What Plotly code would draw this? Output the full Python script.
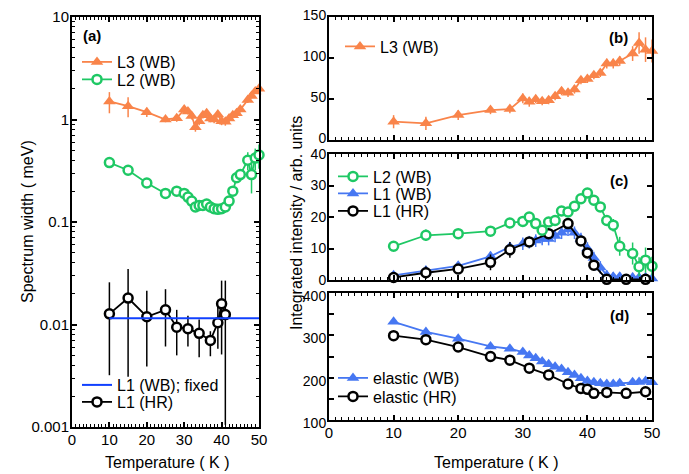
import plotly.graph_objects as go

# ---------------- data ----------------
T_WB = [10, 15, 20, 25, 28, 30, 31, 32, 33, 34, 35, 36, 37, 38, 39, 40, 41, 42, 43, 44, 45, 47, 48, 49, 50]
T_HR = [10, 15, 20, 25, 28, 31, 34, 37, 39, 40, 41, 43, 46, 49]
T_HR_width = [10, 15, 20, 25, 28, 31, 34, 37, 39, 40, 41]

# (a) spectrum width (meV)
width_L3 = [1.50, 1.35, 1.18, 1.00, 1.03, 1.25, 1.20, 1.08, 0.84, 0.96, 1.10, 1.15, 1.02, 1.00, 1.12,
            0.96, 0.95, 1.02, 1.10, 1.15, 1.25, 1.55, 1.70, 1.88, 2.00]
width_L3_err = [0.35, 0.30, 0.12, 0.06, 0.08, 0.10, 0.08, 0.08, 0.08, 0.08, 0.08, 0.08, 0.08, 0.08, 0.08,
                0.08, 0.08, 0.08, 0.08, 0.08, 0.08, 0.10, 0.10, 0.10, 0.12]
width_L2 = [0.38, 0.32, 0.24, 0.19, 0.20, 0.19, 0.175, 0.16, 0.14, 0.145, 0.145, 0.15, 0.14, 0.135, 0.133,
            0.135, 0.14, 0.16, 0.20, 0.27, 0.29, 0.40, 0.29, 0.42, 0.45]
width_L2_err = [0.02, 0.02, 0.015, 0.01, 0.01, 0.01, 0.01, 0.01, 0.01, 0.01, 0.01, 0.01, 0.01, 0.01, 0.01,
                0.01, 0.01, 0.01, 0.015, 0.02, 0.03, 0.08, 0.10, 0.10, 0.12]
width_L1_WB_fixed = 0.0115
width_L1_HR = [0.0127, 0.0181, 0.0119, 0.0139, 0.0094, 0.0091, 0.0082, 0.0070, 0.0104, 0.0159, 0.0125]
width_L1_HR_err_plus = [0.0131, 0.0167, 0.0095, 0.0082, 0.0045, 0.0031, 0.0030, 0.0016, 0.0046, 0.0109, 0.0143]
width_L1_HR_err_minus = [0.0095, 0.0150, 0.0080, 0.0078, 0.0044, 0.0030, 0.0034, 0.0021, 0.0046, 0.0108, 0.01145]

# (b) integrated intensity L3
int_L3 = [22.3, 20.3, 30.4, 36.5, 37.7, 50.7, 46.6, 49.8, 47.4, 48.6, 53.5, 59.6, 57.5, 61.6, 72.9,
          74.5, 79.0, 81.8, 93.2, 93.2, 96.4, 105.4, 118.3, 110.2, 108.6]
int_L3_err = [8, 8, 6, 5, 5, 6, 6, 5, 5, 5, 5, 5, 5, 5, 5, 5, 5, 5, 6, 6, 6, 9, 13, 15, 14]

# (c) integrated intensity L2, L1
int_L2 = [10.7, 14.2, 14.7, 15.5, 18.1, 18.6, 20.0, 17.9, 15.8, 18.4, 18.9, 21.9, 21.6, 23.4, 25.8,
          27.6, 25.3, 23.2, 18.9, 17.4, 10.7, 8.4, 4.2, 6.3, 4.4]
int_L2_err = [1.5, 1.8, 1.2, 1.2, 1.5, 1.5, 1.5, 1.5, 1.5, 1.5, 1.5, 1.5, 1.5, 1.5, 1.5,
              1.5, 1.5, 1.5, 1.5, 2.0, 3.0, 3.5, 3.0, 4.0, 3.0]
int_L1_WB = [1.5, 3.0, 4.5, 7.5, 10.5, 11.5, 12.0, 12.5, 13.0, 13.0, 14.0, 15.0, 16.0, 15.0, 13.0,
             10.0, 7.0, 4.0, 1.5, 1.0, 1.0, 0.8, 0.8, 0.8, 0.5]
int_L1_WB_err = [1.0, 1.0, 1.0, 1.5, 1.5, 2.0, 2.0, 2.0, 2.0, 2.0, 2.0, 2.0, 2.0, 2.0, 2.0,
                 2.0, 2.0, 2.0, 1.5, 1.5, 1.5, 1.5, 1.5, 1.5, 1.5]
int_L1_HR = [0.8, 2.3, 3.5, 5.6, 9.6, 12.1, 14.7, 17.9, 12.4, 8.6, 4.7, 0.2, 0.2, 0.2]
int_L1_HR_err = [0.8, 2.0, 1.0, 2.5, 2.5, 1.0, 1.0, 1.5, 1.0, 1.0, 1.0, 0.5, 0.5, 0.5]

# (d) elastic
elastic_WB = [331.8, 308.0, 292.0, 273.8, 268.3, 260.5, 252.4, 246.0, 238.0, 231.8, 226.0, 220.7, 212.9,
              206.5, 198.6, 192.0, 189.0, 186.7, 185.0, 185.0, 186.7, 189.0, 190.0, 192.0, 189.0]
elastic_HR = [299.3, 289.8, 272.4, 250.0, 241.4, 222.4, 206.5, 185.0, 174.7, 172.4, 162.9, 165.2, 162.9, 166.7]

# ---------------- styles ----------------
ORANGE = "#F9844A"
GREEN = "#1EC864"
BLUE = "#4677F2"
BLUE_LINE = "#1040FF"
BLACK = "#000000"
FONT = "Liberation Sans, Arial, sans-serif"

W, H = 689, 474


def xd(a, b):
    return [a / W, b / W]


def yd(top, bottom):
    return [1 - bottom / H, 1 - top / H]


def err(arr, color, minus=None):
    d = dict(type="data", array=arr, color=color, thickness=1.5, width=0, visible=True)
    if minus is not None:
        d["arrayminus"] = minus
        d["symmetric"] = False
    return d


def tri(c):
    return dict(symbol="triangle-up", size=11, color=c, line=dict(width=0))


def circ(c):
    return dict(symbol="circle", size=9, color="white", line=dict(width=2.5, color=c))


fig = go.Figure()

# (a)
fig.add_trace(go.Scatter(x=T_WB, y=width_L3, mode="lines+markers", name="L3 (WB)",
                         line=dict(color=ORANGE, width=1.8), marker=tri(ORANGE),
                         error_y=err(width_L3_err, ORANGE), xaxis="x", yaxis="y",
                         legend="legend", cliponaxis=False))
fig.add_trace(go.Scatter(x=T_WB, y=width_L2, mode="lines+markers", name="L2 (WB)",
                         line=dict(color=GREEN, width=1.8), marker=circ(GREEN),
                         error_y=err(width_L2_err, GREEN), xaxis="x", yaxis="y",
                         legend="legend2", cliponaxis=False))
fig.add_trace(go.Scatter(x=T_HR_width, y=width_L1_HR, mode="lines+markers", name="L1 (HR)",
                         line=dict(color=BLACK, width=1.8), marker=circ(BLACK),
                         error_y=err(width_L1_HR_err_plus, BLACK, width_L1_HR_err_minus),
                         xaxis="x", yaxis="y", legend="legend4", cliponaxis=False))
fig.add_trace(go.Scatter(x=T_WB, y=[width_L1_WB_fixed] * len(T_WB), mode="lines",
                         name="L1 (WB); fixed", line=dict(color=BLUE_LINE, width=2),
                         xaxis="x", yaxis="y", legend="legend3"))

# (b)
fig.add_trace(go.Scatter(x=T_WB, y=int_L3, mode="lines+markers", name="L3 (WB)",
                         line=dict(color=ORANGE, width=1.8), marker=tri(ORANGE),
                         error_y=err(int_L3_err, ORANGE), xaxis="x2", yaxis="y2",
                         legend="legend5", cliponaxis=False))

# (c)
fig.add_trace(go.Scatter(x=T_WB, y=int_L1_WB, mode="lines+markers", name="L1 (WB)",
                         line=dict(color=BLUE, width=1.8), marker=tri(BLUE),
                         error_y=err(int_L1_WB_err, BLUE), xaxis="x3", yaxis="y3",
                         legend="legend7", cliponaxis=False))
fig.add_trace(go.Scatter(x=T_HR, y=int_L1_HR, mode="lines+markers", name="L1 (HR)",
                         line=dict(color=BLACK, width=1.8), marker=circ(BLACK),
                         error_y=err(int_L1_HR_err, BLACK), xaxis="x3", yaxis="y3",
                         legend="legend8", cliponaxis=False))
fig.add_trace(go.Scatter(x=T_WB, y=int_L2, mode="lines+markers", name="L2 (WB)",
                         line=dict(color=GREEN, width=1.8), marker=circ(GREEN),
                         error_y=err(int_L2_err, GREEN), xaxis="x3", yaxis="y3",
                         legend="legend6", cliponaxis=False))

# (d)
fig.add_trace(go.Scatter(x=T_WB, y=elastic_WB, mode="lines+markers", name="elastic (WB)",
                         line=dict(color=BLUE, width=1.8), marker=tri(BLUE),
                         xaxis="x4", yaxis="y4", legend="legend9", cliponaxis=False))
fig.add_trace(go.Scatter(x=T_HR, y=elastic_HR, mode="lines+markers", name="elastic (HR)",
                         line=dict(color=BLACK, width=1.8), marker=circ(BLACK),
                         xaxis="x4", yaxis="y4", legend="legend10", cliponaxis=False))

TICKFONT = dict(family=FONT, size=15, color="black")
RTICKFONT = dict(family=FONT, size=14, color="black")
axis_common = dict(showline=True, linecolor="black", linewidth=2, mirror="allticks",
                   ticks="inside", ticklen=5, tickwidth=1.5, tickcolor="black",
                   showgrid=False, zeroline=False, automargin=False,
                   tickfont=TICKFONT, ticklabelstandoff=-2)

xminor = dict(ticks="inside", dtick=1, ticklen=3, tickwidth=1, tickcolor="black", showgrid=False)

log_minor_vals = [m * 10 ** e for e in range(-3, 1) for m in range(2, 10)]

layout_axes = dict(
    xaxis=dict(axis_common, domain=xd(72, 259), range=[0, 50], dtick=10, minor=xminor, anchor="y"),
    yaxis=dict(axis_common, domain=yd(17, 427), type="log", range=[-3, 1], anchor="x",
               tickvals=[0.001, 0.01, 0.1, 1, 10], ticktext=["0.001", "0.01", "0.1", "1", "10"],
               minor=dict(ticks="inside", tickvals=log_minor_vals, ticklen=3, tickwidth=1,
                          tickcolor="black", showgrid=False)),
    xaxis2=dict(axis_common, domain=xd(329, 652), range=[0, 50], dtick=10, minor=xminor,
                anchor="y2", showticklabels=False),
    yaxis2=dict(axis_common, domain=yd(17, 140), range=[0, 150], dtick=50, anchor="x2",
                tickfont=RTICKFONT, ticklabelshift=-2),
    xaxis3=dict(axis_common, domain=xd(329, 652), range=[0, 50], dtick=10, minor=xminor,
                anchor="y3", showticklabels=False),
    yaxis3=dict(axis_common, domain=yd(154, 280), range=[0, 40], dtick=10, anchor="x3",
                tickfont=RTICKFONT, ticklabelshift=0),
    xaxis4=dict(axis_common, domain=xd(329, 652), range=[0, 50], dtick=10, minor=xminor, anchor="y4"),
    yaxis4=dict(axis_common, domain=yd(293, 420), range=[100, 400], tickvals=[100, 200, 300, 400],
                anchor="x4", tickfont=RTICKFONT, ticklabelshift=3,
                minor=dict(ticks="inside", tickvals=[150, 250, 350], ticklen=5, tickwidth=1.5,
                           tickcolor="black", showgrid=False)),
)


def leg(text_x, center_y):
    return dict(x=(text_x - 40) / W, y=1 - center_y / H, xanchor="left", yanchor="middle",
                bgcolor="rgba(0,0,0,0)", borderwidth=0,
                font=dict(family=FONT, size=16, color="black"), itemclick=False)


TITLEFONT = dict(family=FONT, size=16, color="black")
LABELFONT = dict(family=FONT, size=15, color="black")


def ann(text, x, y, font, angle=0):
    return dict(text=text, x=x / W, y=1 - y / H, xref="paper", yref="paper", showarrow=False,
                xanchor="center", yanchor="middle", textangle=angle, font=font)


annotations = [
    ann("<b>(a)</b>", 92, 36, LABELFONT),
    ann("<b>(b)</b>", 618, 37.5, LABELFONT),
    ann("<b>(c)</b>", 619, 180, LABELFONT),
    ann("<b>(d)</b>", 619, 315, LABELFONT),
    ann("Spectrum width ( meV)", 27, 222, TITLEFONT, -90),
    ann("Integrated intensity / arb. units", 296, 223, TITLEFONT, -90),
    ann("Temperature ( K )", 167, 462, TITLEFONT),
    ann("Temperature ( K )", 496, 462, TITLEFONT),
]

fig.update_layout(
    width=W, height=H, margin=dict(l=0, r=0, t=0, b=0),
    paper_bgcolor="white", plot_bgcolor="white",
    font=dict(family=FONT, size=16, color="black"),
    showlegend=True,
    legend=leg(117, 62), legend2=leg(117, 79.5),
    legend3=leg(117, 385), legend4=leg(117, 402),
    legend5=leg(380, 46.5),
    legend6=leg(373, 176.5), legend7=leg(373, 193.5), legend8=leg(373, 211),
    legend9=leg(373, 378), legend10=leg(373, 396.5),
    annotations=annotations,
    **layout_axes,
)

fig.write_html("out.html", config={"displayModeBar": False},
               post_script="document.body.style.margin='0';")
